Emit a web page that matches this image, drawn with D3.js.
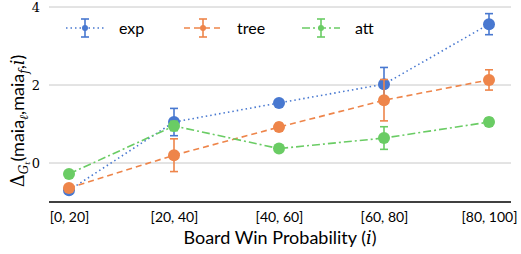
<!DOCTYPE html>
<html>
<head>
<meta charset="utf-8">
<script src="https://cdn.jsdelivr.net/npm/d3@7"></script>
<style>
  body { margin: 0; background: #fff; }
  svg { display: block; }
</style>
</head>
<body>
<figure id="chart" style="margin:0"></figure>
<script>
// bins of board win probability
const categories = ['[0, 20]', '[20, 40]', '[40, 60]', '[60, 80]', '[80, 100]'];
const yTicks = [0, 2, 4];

// mean and error (half-width) per bin
const expMean = [-0.70, 1.05, 1.54, 2.02, 3.56];
const expErr = [0.05, 0.35, 0.07, 0.43, 0.27];
const treeMean = [-0.64, 0.20, 0.92, 1.61, 2.13];
const treeErr = [0.05, 0.42, 0.10, 0.53, 0.26];
const attMean = [-0.28, 0.95, 0.37, 0.64, 1.05];
const attErr = [0.05, 0.12, 0.05, 0.29, 0.10];

const series = [
  { name: 'exp', mean: expMean, err: expErr, color: '#4878d0', dash: '1.5,3' },
  { name: 'tree', mean: treeMean, err: treeErr, color: '#ee854a', dash: '6,4' },
  { name: 'att', mean: attMean, err: attErr, color: '#6acc64', dash: '8,3,2,3' }
];

const width = 521, height = 254;
const plotLeft = 49, plotRight = 511, plotTop = 7, plotBottom = 202;

const svg = d3.select('#chart').append('svg')
  .attr('width', width)
  .attr('height', height);

const x = d3.scalePoint()
  .domain(categories)
  .range([69, 489]);

const y = d3.scaleLinear()
  .domain([-1, 4])
  .range([plotBottom, plotTop]);

// gridlines
svg.append('g')
  .selectAll('line')
  .data(yTicks)
  .join('line')
  .attr('x1', plotLeft).attr('x2', plotRight)
  .attr('y1', d => y(d)).attr('y2', d => y(d))
  .attr('stroke', '#c8c8c8')
  .attr('stroke-width', 1);

// y tick labels (serif, like the latex numbers)
svg.append('g')
  .selectAll('text')
  .data(yTicks)
  .join('text')
  .attr('x', 40)
  .attr('y', d => y(d) + 5)
  .attr('text-anchor', 'end')
  .attr('font-family', 'DejaVu Serif, serif')
  .attr('font-size', 13)
  .text(d => d);

// x axis
const xAxis = svg.append('g')
  .attr('transform', 'translate(0,' + plotBottom + ')')
  .call(d3.axisBottom(x).tickSize(0).tickPadding(10));
xAxis.select('.domain').remove();
xAxis.append('line')
  .attr('x1', plotLeft).attr('x2', plotRight)
  .attr('stroke', '#000').attr('stroke-width', 1.3);
xAxis.selectAll('text')
  .attr('font-family', 'Lato, sans-serif')
  .attr('font-size', 14)
  .attr('fill', '#000');

// axis titles
const title = svg.append('text')
  .attr('x', 280)
  .attr('y', 244)
  .attr('text-anchor', 'middle')
  .attr('font-family', 'Lato, sans-serif')
  .attr('font-size', 18);
title.append('tspan').text('Board Win Probability (');
title.append('tspan').attr('font-family', 'DejaVu Serif, serif').attr('font-style', 'italic').text('i');
title.append('tspan').text(')');

const ylab = svg.append('text')
  .attr('transform', 'translate(24,121) rotate(-90)')
  .attr('text-anchor', 'middle')
  .attr('font-family', 'Lato, sans-serif')
  .attr('font-size', 18);
ylab.append('tspan').attr('font-family', 'DejaVu Serif, serif').text('Δ');
ylab.append('tspan').attr('font-family', 'DejaVu Serif, serif').attr('font-style', 'italic')
  .attr('font-size', 12).attr('dy', 4).text('G');
ylab.append('tspan').attr('font-family', 'DejaVu Serif, serif').attr('font-style', 'italic')
  .attr('font-size', 8).attr('dy', 2).text('t');
ylab.append('tspan').attr('dy', -6).text('(maia');
ylab.append('tspan').attr('font-family', 'DejaVu Serif, serif').attr('font-style', 'italic')
  .attr('font-size', 12).attr('dy', 4).text('ℓ');
ylab.append('tspan').attr('dy', -4).text(',maia');
ylab.append('tspan').attr('font-family', 'DejaVu Serif, serif').attr('font-style', 'italic')
  .attr('font-size', 12).attr('dy', 4).text('f');
ylab.append('tspan').attr('dy', -4).text(',');
ylab.append('tspan').attr('font-family', 'DejaVu Serif, serif').attr('font-style', 'italic').text('i');
ylab.append('tspan').text(')');

// series
const line = d3.line()
  .x((d, i) => x(categories[i]))
  .y(d => y(d));

series.forEach(s => {
  const g = svg.append('g');
  g.append('path')
    .datum(s.mean)
    .attr('d', line)
    .attr('fill', 'none')
    .attr('stroke', s.color)
    .attr('stroke-width', 1.6)
    .attr('stroke-dasharray', s.dash);

  const rows = s.mean.map((m, i) => ({ c: categories[i], m: m, e: s.err[i] }));
  // error bars
  g.selectAll('line.eb')
    .data(rows)
    .join('line')
    .attr('class', 'eb')
    .attr('x1', d => x(d.c)).attr('x2', d => x(d.c))
    .attr('y1', d => y(d.m - d.e)).attr('y2', d => y(d.m + d.e))
    .attr('stroke', s.color).attr('stroke-width', 1.6);
  g.selectAll('line.cap')
    .data(rows.flatMap(d => [d.m - d.e, d.m + d.e].map(v => ({ c: d.c, v: v }))))
    .join('line')
    .attr('class', 'cap')
    .attr('x1', d => x(d.c) - 4).attr('x2', d => x(d.c) + 4)
    .attr('y1', d => y(d.v)).attr('y2', d => y(d.v))
    .attr('stroke', s.color).attr('stroke-width', 1.6);
  g.selectAll('circle')
    .data(rows)
    .join('circle')
    .attr('cx', d => x(d.c))
    .attr('cy', d => y(d.m))
    .attr('r', 6)
    .attr('fill', s.color);
});

// legend
const legendX = [66, 184, 302];
const legend = svg.append('g');
series.forEach((s, i) => {
  const lg = legend.append('g').attr('transform', 'translate(' + legendX[i] + ',28)');
  lg.append('line').attr('x1', 0).attr('x2', 38)
    .attr('stroke', s.color).attr('stroke-width', 1.6).attr('stroke-dasharray', s.dash);
  lg.append('line').attr('x1', 19).attr('x2', 19).attr('y1', -9).attr('y2', 9)
    .attr('stroke', s.color).attr('stroke-width', 1.6);
  [-9, 9].forEach(v => lg.append('line').attr('x1', 15).attr('x2', 23).attr('y1', v).attr('y2', v)
    .attr('stroke', s.color).attr('stroke-width', 1.6));
  lg.append('circle').attr('cx', 19).attr('r', 3).attr('fill', s.color);
  lg.append('text').attr('x', 53).attr('y', 6)
    .attr('font-family', 'Lato, sans-serif').attr('font-size', 16)
    .text(s.name);
});
</script>
</body>
</html>
